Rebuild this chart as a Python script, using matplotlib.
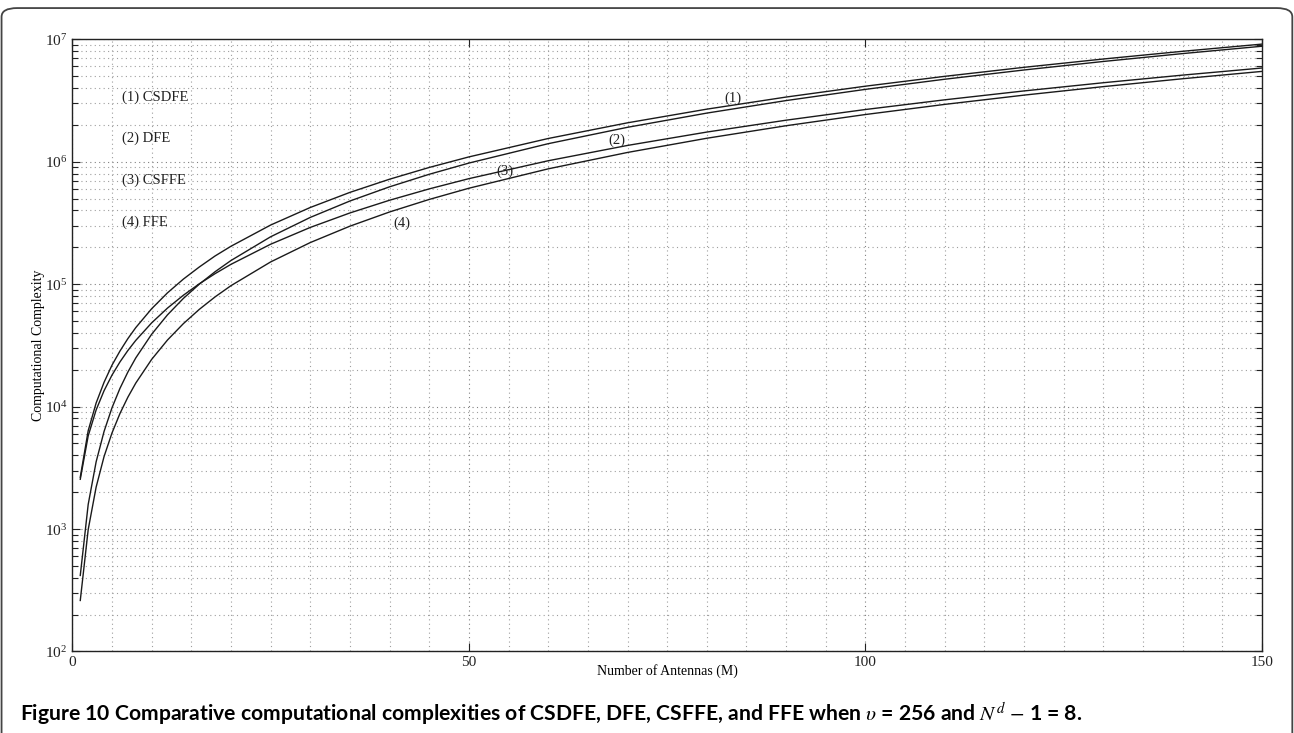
import matplotlib
matplotlib.use('Agg')
import matplotlib.pyplot as plt
from matplotlib.patches import FancyBboxPatch
from matplotlib.ticker import LogLocator, FixedLocator, NullFormatter

plt.rcParams['font.family'] = ['Liberation Serif', 'DejaVu Serif']
plt.rcParams['mathtext.fontset'] = 'stix'

# number of antennas
M = [1, 2, 3, 4, 5, 6, 7, 8, 10, 12, 14, 16, 18, 20, 25, 30, 35, 40, 45, 50,
     60, 70, 80, 90, 100, 110, 120, 130, 140, 150]

csdfe = [2650, 6360, 10700, 15800, 21800, 28400, 35900, 44200, 63000, 85000,
         110000, 138000, 170000, 204000, 304000, 423000, 562000, 720000, 898000,
         1095000, 1548000, 2079000, 2688000, 3375000, 4140000, 4983000, 5904000,
         6903000, 7980000, 9135000]
dfe = [418, 1590, 3540, 6270, 9780, 14070, 19140, 24990, 39000, 56200,
       76500, 99900, 126400, 156000, 243800, 351000, 477800, 624000, 789800,
       975000, 1404000, 1911000, 2496000, 3159000, 3900000, 4719000, 5616000,
       6591000, 7644000, 8775000]
csffe = [2550, 5770, 9390, 13490, 18080, 23150, 28710, 34750, 48300, 63800,
         81200, 100600, 121900, 145200, 211900, 290700, 381700, 484800, 600100,
         727500, 1018800, 1358700, 1747200, 2184300, 2670000, 3204300, 3787200,
         4418700, 5098800, 5827500]
ffe = [261, 990, 2200, 3910, 6090, 8770, 11930, 15570, 24300, 35000,
       47600, 62200, 78750, 97200, 151900, 218700, 297700, 388800, 492100,
       607500, 874800, 1190700, 1555200, 1968300, 2430000, 2940300, 3499200,
       4106700, 4762800, 5467500]

legend_text = ['(1) CSDFE', '(2) DFE', '(3) CSFFE', '(4) FFE']
legend_y = [3.36e6, 1.55e6, 7.05e5, 3.2e5]
curve_tags = ['(1)', '(2)', '(3)', '(4)']
tag_x = [83.3, 68.7, 54.6, 41.5]
tag_y = [3.30e6, 1.50e6, 8.36e5, 3.12e5]

fig = plt.figure(figsize=(12.94, 7.33), dpi=100)
ax = fig.add_axes([0.0559, 0.1112, 0.9194, 0.8352])

for y in (csdfe, dfe, csffe, ffe):
    ax.plot(M, y, color='#1a1a1a', lw=1.0)

ax.set_yscale('log')
ax.set_xlim(0, 150)
ax.set_ylim(1e2, 1e7)
ax.xaxis.set_major_locator(FixedLocator([0, 50, 100, 150]))
ax.xaxis.set_minor_locator(FixedLocator(list(range(0, 151, 5))))
ax.yaxis.set_major_locator(LogLocator(base=10, numticks=10))
ax.yaxis.set_minor_locator(LogLocator(base=10, subs=range(2, 10), numticks=20))
ax.yaxis.set_minor_formatter(NullFormatter())

ax.grid(True, which='major', linestyle=(0, (1, 3)), color='0.5', lw=0.8)
ax.grid(True, which='minor', linestyle=(0, (1, 3)), color='0.62', lw=0.8)
ax.tick_params(which='both', direction='in', top=True, right=True,
               labelsize=11, colors='#222222')
ax.tick_params(which='major', length=6, width=0.8)
ax.tick_params(axis='y', which='minor', length=4, width=0.8)
ax.tick_params(axis='x', which='minor', length=0)
for s in ax.spines.values():
    s.set_linewidth(1.0)
    s.set_color('#222222')

ax.set_xlabel('Number of Antennas (M)', fontsize=10, labelpad=-4)
ax.set_ylabel('Computational Complexity', fontsize=10, labelpad=0)

for t, y in zip(legend_text, legend_y):
    ax.text(6.3, y, t, fontsize=10.5, va='center', ha='left', color='#222222')
for t, x, y in zip(curve_tags, tag_x, tag_y):
    ax.text(x, y, t, fontsize=10.5, va='center', ha='center', color='#222222')

fig.text(0.0155, 0.027,
         r'Figure 10 Comparative computational complexities of CSDFE, DFE, CSFFE, and FFE when $\upsilon$ = 256 and $N^{d}$ $-$ 1 = 8.',
         fontsize=15.2, fontweight='bold', family=['Lato', 'DejaVu Sans'],
         va='center', ha='left')

border = FancyBboxPatch((0.0012, -0.05), 0.9975, 1.039,
                        boxstyle='round,pad=0,rounding_size=0.012',
                        transform=fig.transFigure, fill=False,
                        edgecolor='#444444', lw=1.3, clip_on=False)
fig.patches.append(border)

fig.savefig('out.png', dpi=100)
